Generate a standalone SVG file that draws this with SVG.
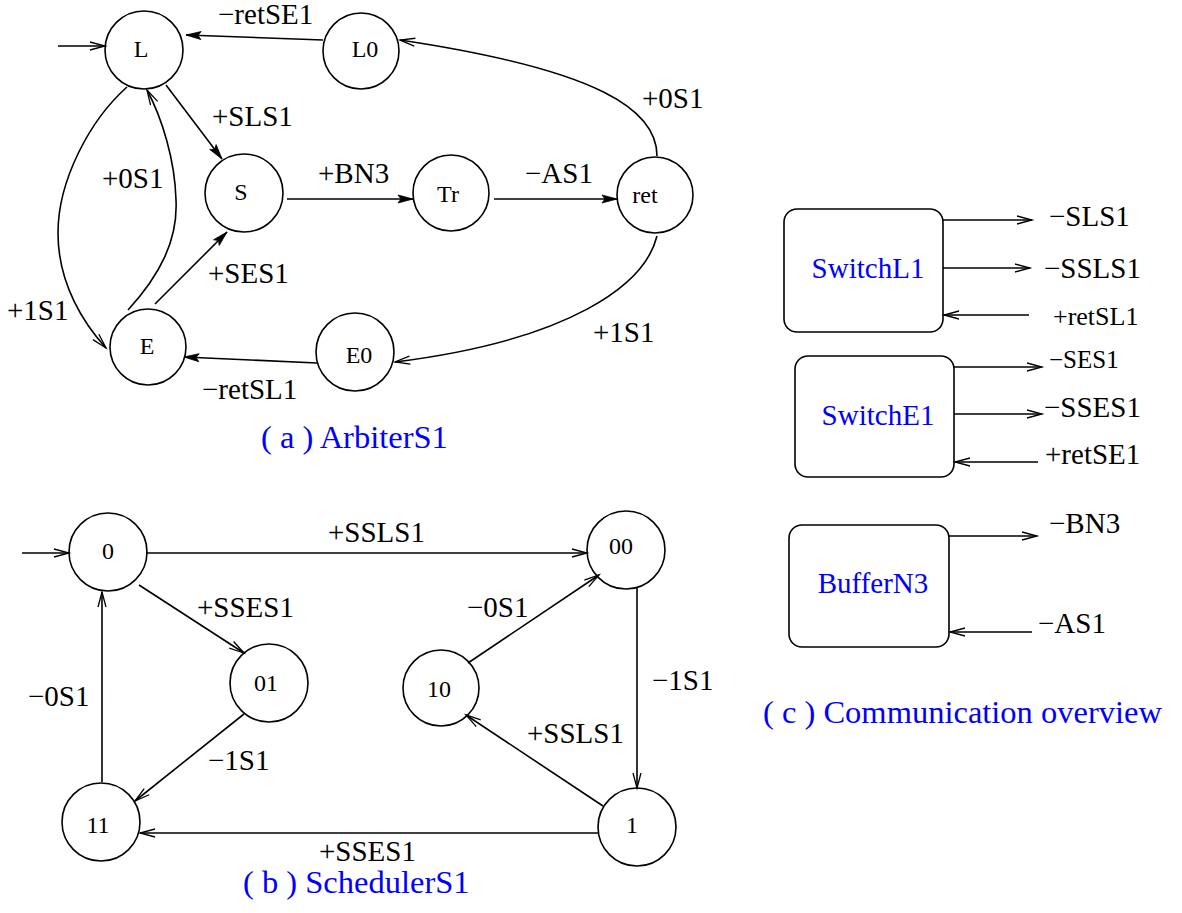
<svg xmlns="http://www.w3.org/2000/svg" width="1182" height="913" viewBox="0 0 1182 913">
  <style>
    text { font-family: "Liberation Serif", "Times New Roman", serif; fill: #000; }
    .node circle { fill: none; stroke: #000; stroke-width: 1.6; }
    .node text { font-size: 24px; text-anchor: middle; }
    .box rect { fill: none; stroke: #000; stroke-width: 1.6; }
    .box text { font-size: 29px; fill: #0000ff; text-anchor: middle; }
    .lbl { font-size: 29px; }
    .cap { font-size: 32.5px; fill: #0000ff; }
    .edge { fill: none; stroke: #000; stroke-width: 1.6; }
    .solid { marker-end: url(#headFilled); }
    .open { marker-end: url(#headOpen); }
  </style>
  <defs>
    <marker id="headFilled" markerUnits="userSpaceOnUse" viewBox="0 -5 16 10" refX="15" refY="0" markerWidth="16" markerHeight="10" orient="auto" overflow="visible">
      <path d="M0,-4 L15,0 L0,4 L3,0 z" fill="#000" stroke="#000" stroke-width="0.8"/>
    </marker>
    <marker id="headOpen" markerUnits="userSpaceOnUse" viewBox="0 -5 16 10" refX="15" refY="0" markerWidth="16" markerHeight="10" orient="auto" overflow="visible">
      <path d="M0,-4 L15,0 L0,4" fill="none" stroke="#000" stroke-width="1.3"/>
    </marker>
  </defs>

  <!-- (a) ArbiterS1 -->
  <g id="arbiter-nodes">
    <g id="nodeL" class="node"><circle cx="144" cy="50" r="39"/><text x="141" y="57">L</text></g>
    <g id="nodeL0" class="node"><circle cx="361" cy="51" r="38"/><text x="365" y="57">L0</text></g>
    <g id="nodeS" class="node"><circle cx="244" cy="193" r="39"/><text x="241" y="200">S</text></g>
    <g id="nodeTr" class="node"><circle cx="451" cy="193" r="38"/><text x="448" y="202">Tr</text></g>
    <g id="nodeRet" class="node"><circle cx="655" cy="195" r="38"/><text x="645" y="203">ret</text></g>
    <g id="nodeE" class="node"><circle cx="148" cy="347" r="38"/><text x="147" y="354">E</text></g>
    <g id="nodeE0" class="node"><circle cx="355" cy="352" r="39"/><text x="359" y="363">E0</text></g>
  </g>
  <g id="arbiter-edges">
    <path class="edge open" d="M58,46 L105,46"/>
    <path class="edge solid" d="M323,40 L186,35"/>
    <path class="edge solid" d="M166,85 L222,159"/>
    <path class="edge solid" d="M287,199 L413,199"/>
    <path class="edge solid" d="M494,199 L617,199"/>
    <path class="edge open" d="M657,156 C657,110 600,70 400,40"/>
    <path class="edge open" d="M657,236 C645,285 570,340 395,362"/>
    <path class="edge solid" d="M317,363 L184,357"/>
    <path class="edge solid" d="M155,304 L227,232"/>
    <path class="edge open" d="M128,310 C160,275 178,240 176,200 C175,160 162,118 147,90"/>
    <path class="edge open" d="M127,87 C90,120 58,180 58,233 C58,285 85,325 106,348"/>
  </g>
  <g id="arbiter-labels">
    <text class="lbl" x="218" y="24">−retSE1</text>
    <text class="lbl" x="212" y="126">+SLS1</text>
    <text class="lbl" x="318" y="183">+BN3</text>
    <text class="lbl" x="525" y="183">−AS1</text>
    <text class="lbl" x="642" y="108">+0S1</text>
    <text class="lbl" x="102" y="188">+0S1</text>
    <text class="lbl" x="7" y="320">+1S1</text>
    <text class="lbl" x="208" y="283">+SES1</text>
    <text class="lbl" x="202" y="399">−retSL1</text>
    <text class="lbl" x="593" y="342">+1S1</text>
    <text class="cap" x="261" y="448">( a ) ArbiterS1</text>
  </g>

  <!-- (b) SchedulerS1 -->
  <g id="scheduler-nodes">
    <g id="node0" class="node"><circle cx="108" cy="552" r="39"/><text x="108" y="559">0</text></g>
    <g id="node01" class="node"><circle cx="269" cy="683" r="39"/><text x="266" y="691">01</text></g>
    <g id="node11" class="node"><circle cx="101" cy="822" r="39"/><text x="98" y="833">11</text></g>
    <g id="node00" class="node"><circle cx="626" cy="550" r="39"/><text x="621" y="554">00</text></g>
    <g id="node10" class="node"><circle cx="441" cy="688" r="38"/><text x="439" y="697">10</text></g>
    <g id="node1" class="node"><circle cx="637" cy="827" r="39"/><text x="632" y="833">1</text></g>
  </g>
  <g id="scheduler-edges">
    <path class="edge open" d="M22,553 L69,553"/>
    <path class="edge open" d="M146,553 L587,553"/>
    <path class="edge open" d="M139,585 L244,653"/>
    <path class="edge open" d="M244,714 L135,801"/>
    <path class="edge open" d="M102,782 L102,592"/>
    <path class="edge open" d="M598,833 L140,833"/>
    <path class="edge open" d="M637,587 L637,788"/>
    <path class="edge open" d="M468,663 L599,575"/>
    <path class="edge open" d="M603,806 L466,715"/>
  </g>
  <g id="scheduler-labels">
    <text class="lbl" x="328" y="542">+SSLS1</text>
    <text class="lbl" x="197" y="617">+SSES1</text>
    <text class="lbl" x="208" y="770">−1S1</text>
    <text class="lbl" x="28" y="706">−0S1</text>
    <text class="lbl" x="319" y="861">+SSES1</text>
    <text class="lbl" x="652" y="690">−1S1</text>
    <text class="lbl" x="467" y="617">−0S1</text>
    <text class="lbl" x="527" y="743">+SSLS1</text>
    <text class="cap" x="243" y="893">( b ) SchedulerS1</text>
  </g>

  <!-- (c) Communication overview -->
  <g id="switchL1" class="box">
    <rect x="784" y="209" width="159" height="123" rx="13"/>
    <text x="868" y="278">SwitchL1</text>
  </g>
  <g id="switchE1" class="box">
    <rect x="795" y="356" width="159" height="121" rx="13"/>
    <text x="878" y="425">SwitchE1</text>
  </g>
  <g id="bufferN3" class="box">
    <rect x="789" y="525" width="160" height="122" rx="13"/>
    <text x="873" y="593">BufferN3</text>
  </g>
  <g id="overview-ports">
    <path class="edge open" d="M943,220 L1032,220"/>
    <path class="edge open" d="M943,268 L1030,268"/>
    <path class="edge open" d="M1029,315 L944,315"/>
    <path class="edge open" d="M954,367 L1042,367"/>
    <path class="edge open" d="M954,414 L1042,414"/>
    <path class="edge open" d="M1038,462 L955,462"/>
    <path class="edge open" d="M949,536 L1037,536"/>
    <path class="edge open" d="M1032,632 L950,632"/>
  </g>
  <g id="overview-labels">
    <text class="lbl" x="1049" y="226">−SLS1</text>
    <text class="lbl" x="1044" y="278">−SSLS1</text>
    <text class="lbl" x="1053" y="325" style="font-size:26px">+retSL1</text>
    <text class="lbl" x="1049" y="368" style="font-size:25px">−SES1</text>
    <text class="lbl" x="1044" y="417">−SSES1</text>
    <text class="lbl" x="1045" y="464">+retSE1</text>
    <text class="lbl" x="1049" y="533">−BN3</text>
    <text class="lbl" x="1038" y="633">−AS1</text>
    <text class="cap" x="763" y="723">( c ) Communication overview</text>
  </g>
</svg>
